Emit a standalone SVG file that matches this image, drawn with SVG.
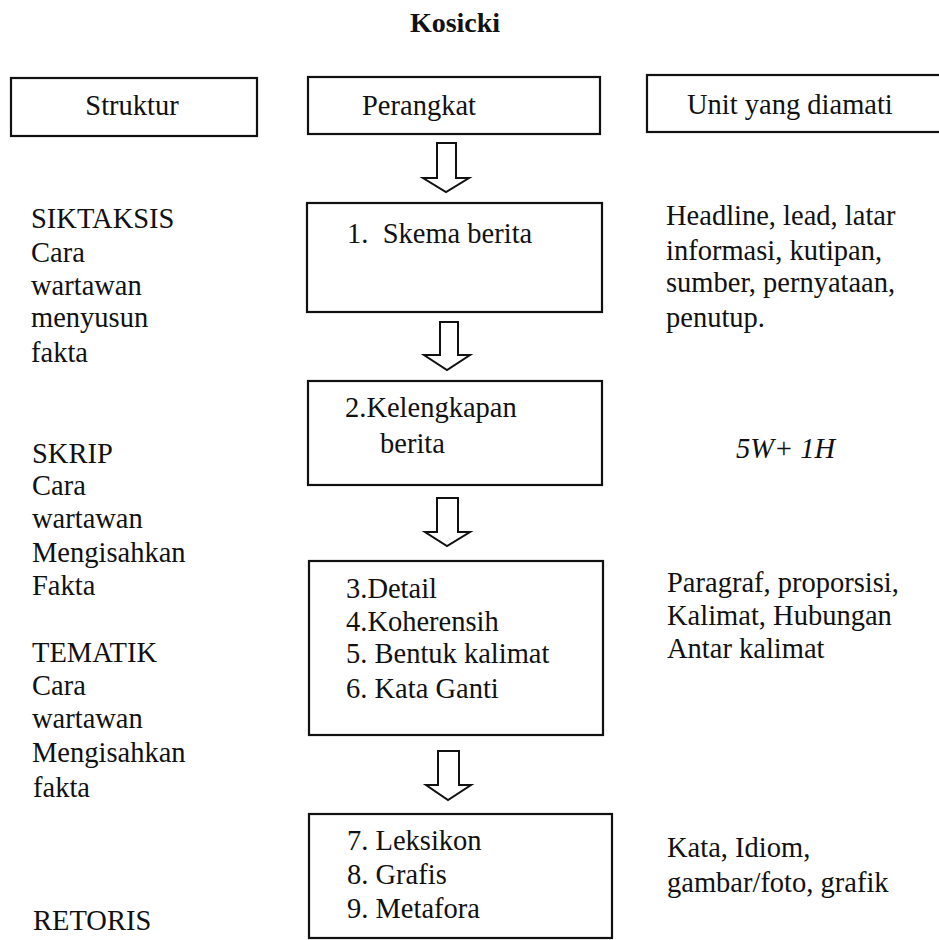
<svg xmlns="http://www.w3.org/2000/svg" width="939" height="940" viewBox="0 0 939 940" font-family="'Liberation Serif', Tinos, 'Times New Roman', 'DejaVu Serif', serif">
<style>
text{font-family:'Liberation Serif', Tinos, 'Times New Roman', 'DejaVu Serif', serif;font-size:28.5px;fill:#111}
.title{font-weight:bold;font-size:28px}
.box{fill:none;stroke:#111;stroke-width:2.2}
.arr{fill:#fff;stroke:#111;stroke-width:2;stroke-linejoin:miter}
.it{font-style:italic}
</style>
<rect width="939" height="940" fill="#fff"/>
<text class="title" x="455" y="32" text-anchor="middle">Kosicki</text>

<g id="hdr-struktur"><rect class="box" x="11" y="78" width="246" height="58"/><text x="132" y="115" text-anchor="middle">Struktur</text></g>
<g id="hdr-perangkat"><rect class="box" x="308" y="77" width="292" height="57"/><text x="362" y="115">Perangkat</text></g>
<g id="hdr-unit"><rect class="box" x="647" y="75" width="300" height="57"/><text x="687" y="114">Unit yang diamati</text></g>

<g id="node1"><rect class="box" x="307" y="203" width="295" height="109"/><text x="347" y="243" xml:space="preserve">1.  Skema berita</text></g>
<g id="node2"><rect class="box" x="308" y="381" width="294" height="104"/><text x="345" y="417">2.Kelengkapan</text><text x="380" y="453">berita</text></g>
<g id="node3"><rect class="box" x="309" y="561" width="294" height="174"/>
<text x="346" y="598">3.Detail</text><text x="346" y="631">4.Koherensih</text><text x="346" y="663">5. Bentuk kalimat</text><text x="346" y="698">6. Kata Ganti</text></g>
<g id="node4"><rect class="box" x="309" y="814" width="303" height="124"/>
<text x="347" y="850">7. Leksikon</text><text x="347" y="884">8. Grafis</text><text x="347" y="918">9. Metafora</text></g>

<g id="struktur-labels">
<text x="31" y="228">SIKTAKSIS</text><text x="31" y="262">Cara</text><text x="31" y="295">wartawan</text><text x="31" y="327">menyusun</text><text x="31" y="362">fakta</text>
<text x="32" y="463">SKRIP</text><text x="32" y="495">Cara</text><text x="32" y="528">wartawan</text><text x="32" y="562">Mengisahkan</text><text x="32" y="595">Fakta</text>
<text x="32" y="662">TEMATIK</text><text x="32" y="695">Cara</text><text x="32" y="728">wartawan</text><text x="32" y="762">Mengisahkan</text><text x="33" y="797">fakta</text>
<text x="33" y="930">RETORIS</text>
</g>

<g id="unit-labels">
<text x="666" y="225">Headline, lead, latar</text><text x="666" y="260">informasi, kutipan,</text><text x="666" y="292">sumber, pernyataan,</text><text x="666" y="327">penutup.</text>
<text class="it" x="736" y="458">5W+ 1H</text>
<text x="667" y="592">Paragraf, proporsisi,</text><text x="667" y="625">Kalimat, Hubungan</text><text x="667" y="658">Antar kalimat</text>
<text x="667" y="857">Kata, Idiom,</text><text x="667" y="892">gambar/foto, grafik</text>
</g>

<g id="connectors">
<path class="arr" d="M437,143 L437,178 L423,178 L446,192 L469,178 L456,178 L456,143 Z"/>
<path class="arr" d="M440,322 L440,355 L424,355 L447,370 L470,355 L458,355 L458,322 Z"/>
<path class="arr" d="M437,498 L437,532 L425,532 L447,546 L470,532 L458,532 L458,498 Z"/>
<path class="arr" d="M438,751 L438,785 L426,785 L448,800 L471,785 L459,785 L459,751 Z"/>
</g>
</svg>
